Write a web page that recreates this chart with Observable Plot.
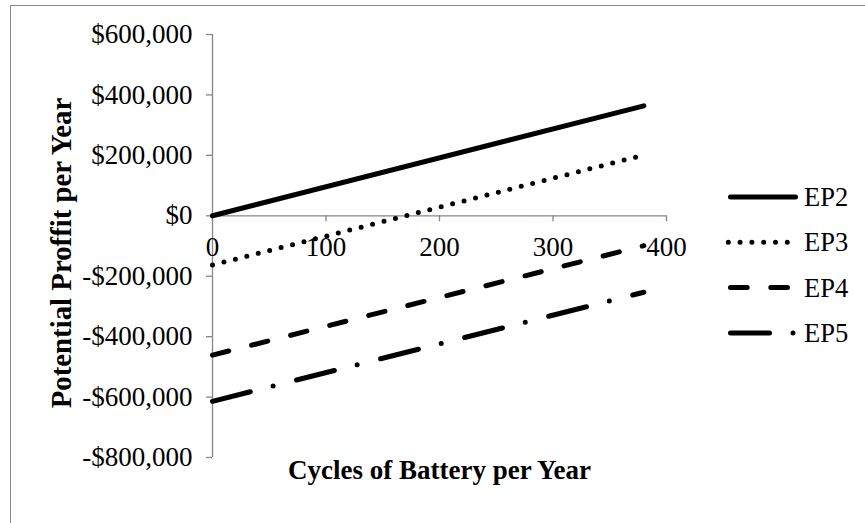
<!DOCTYPE html>
<html>
<head>
<meta charset="utf-8">
<script src="https://cdn.jsdelivr.net/npm/d3@7"></script>
<script src="https://cdn.jsdelivr.net/npm/@observablehq/plot@0.6"></script>
<style>
  html, body { margin: 0; padding: 0; background: #fff; }
  #wrap { position: relative; width: 865px; height: 523px; overflow: hidden; font-family: "Liberation Serif", "Times New Roman", serif; }
  #border { position: absolute; left: 10px; top: 5px; width: 1000px; height: 1000px; border-top: 1px solid #898989; border-left: 1px solid #898989; }
  #chart { position: absolute; left: 0; top: 0; }
  #legend { position: absolute; left: 0; top: 0; pointer-events: none; }
</style>
</head>
<body>
<div id="wrap">
  <div id="border"></div>
  <div id="chart"></div>
  <svg id="legend" width="865" height="523"></svg>
</div>
<script>
// ---- data ----
const cycles = [0, 380];
const seriesNames = ["EP2", "EP3", "EP4", "EP5"];
const ep2 = [0, 364000];
const ep3 = [-163000, 201000];
const ep4 = [-461000, -99000];
const ep5 = [-614000, -253000];
const xTicks = [0, 100, 200, 300, 400];
const yTicks = [-800000, -600000, -400000, -200000, 0, 200000, 400000, 600000];
const xTitle = "Cycles of Battery per Year";
const yTitle = "Potential Proffit per Year";

// ---- styles ----
const seriesValues = [ep2, ep3, ep4, ep5];
const dashes = {
  EP2: null,
  EP3: "0 11.8",
  EP4: "16.7 23.6",
  EP5: "39 23.5 0 24.2"
};
const lineWidth = 5;
const axisGray = "#868686";
const fontFamily = '"Liberation Serif", "Times New Roman", serif';

const rows = seriesNames.flatMap((name, i) =>
  cycles.map((c, j) => ({ series: name, x: c, y: seriesValues[i][j] }))
);

const fmtMoney = v => (v < 0 ? "-" : "") + "$" + d3.format(",")(Math.abs(v));

const lineMarks = seriesNames.map(name =>
  Plot.line(rows.filter(r => r.series === name), {
    x: "x", y: "y",
    stroke: "black",
    strokeWidth: lineWidth,
    strokeLinecap: "round",
    strokeDasharray: dashes[name] || undefined
  })
);

const chart = Plot.plot({
  width: 865,
  height: 523,
  marginLeft: 212,
  marginRight: 199,
  marginTop: 34,
  marginBottom: 66,
  style: { fontFamily, fontSize: "27px", background: "transparent", color: "black", overflow: "visible" },
  x: { domain: [0, 400], axis: null },
  y: { domain: [-800000, 600000], axis: null },
  marks: [
    // y axis line and ticks
    Plot.ruleX([0], { y1: -800000, y2: 600000, stroke: axisGray, strokeWidth: 1.3 }),
    Plot.ruleY(yTicks, { y: d => d, x1: 0, x2: 0, insetLeft: -6, stroke: axisGray, strokeWidth: 1.3 }),
    Plot.text(yTicks, { x: 0, y: d => d, text: d => fmtMoney(d), textAnchor: "end", dx: -20, fontSize: 27, fill: "black" }),
    // x axis at zero
    Plot.ruleY([0], { x1: 0, x2: 400, stroke: axisGray, strokeWidth: 1.3 }),
    Plot.ruleX(xTicks, { x: d => d, y1: 0, y2: 0, insetBottom: -6, stroke: axisGray, strokeWidth: 1.3 }),
    Plot.text(xTicks, { x: d => d, y: 0, text: d => String(d), dy: 32, fontSize: 27, fill: "black" }),
    // series
    ...lineMarks,
    // titles
    Plot.text([xTitle], { frameAnchor: "bottom", textAnchor: "middle", dy: 21, fontWeight: "bold", fontSize: 27, fill: "black" }),
    Plot.text([yTitle], { frameAnchor: "left", textAnchor: "middle", rotate: -90, dx: -151, dy: 7, fontWeight: "bold", fontSize: 28.8, fill: "black" })
  ]
});
document.getElementById("chart").appendChild(chart);

// ---- legend ----
const leg = d3.select("#legend");
const legY0 = 197, legStep = 45.3;
seriesNames.forEach((name, i) => {
  const y = legY0 + i * legStep;
  leg.append("line")
    .attr("x1", name === "EP3" ? 728.3 : 730.5).attr("x2", 795.5)
    .attr("y1", y).attr("y2", y)
    .attr("stroke", "black")
    .attr("stroke-width", lineWidth)
    .attr("stroke-linecap", "round")
    .attr("stroke-dasharray", dashes[name]);
  leg.append("text")
    .attr("x", 804).attr("y", y)
    .attr("dominant-baseline", "central")
    .attr("font-family", fontFamily)
    .attr("font-size", 26.5)
    .text(name);
});
</script>
</body>
</html>
